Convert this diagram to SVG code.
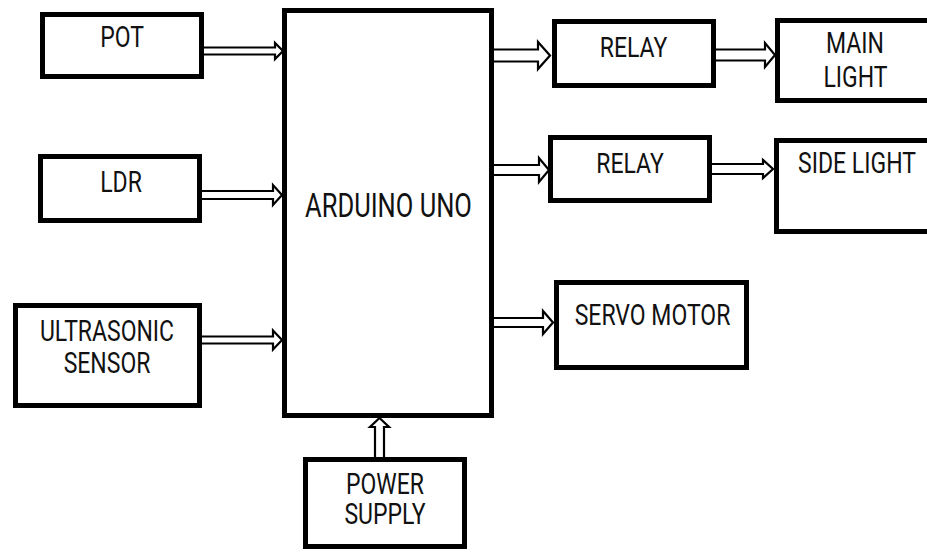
<svg xmlns="http://www.w3.org/2000/svg" width="927" height="554" viewBox="0 0 927 554">
<style>
.box{fill:#fff;stroke:#000;stroke-width:5}
.t{font-family:Roboto,"Liberation Sans",sans-serif;font-size:23px;text-anchor:middle;fill:#111}
.big{font-size:25.5px}
.arr{fill:#fff;stroke:#000;stroke-width:2.2;stroke-linejoin:miter}
</style>
<rect width="927" height="554" fill="#fff"/>
<g id="connectors">
<path class="arr" d="M204,47.5 H275 V43 L283,51 L275,59 V54.5 H204"/>
<path class="arr" d="M202,191 H273 V185 L282,195 L273,205 V199 H202"/>
<path class="arr" d="M202,336.5 H273 V330.5 L282,340 L273,349.5 V343.5 H202"/>
<path class="arr" d="M494,49.5 H538 V42 L550,55.5 L538,69 V61.5 H494"/>
<path class="arr" d="M716,49.5 H765 V43 L775,55 L765,67 V60.5 H716"/>
<path class="arr" d="M494,165 H539 V158 L549,170 L539,182 V175 H494"/>
<path class="arr" d="M712,164 H763 V160 L773,169 L763,178 V174 H712"/>
<path class="arr" d="M494,318 H543 V311 L553,322.5 L543,334 V327 H494"/>
<path class="arr" d="M375,457 V427 H370 L379.5,418 L389,427 H384 V457"/>
</g>
<g id="arduino"><rect class="box" x="284.5" y="10.5" width="207" height="405"/><text class="t big" transform="translate(388.5,217) scale(1,1.28)">ARDUINO UNO</text></g>
<g id="pot"><rect class="box" x="42.5" y="14.5" width="159" height="62"/><text class="t" transform="translate(122,47) scale(1,1.25)">POT</text></g>
<g id="ldr"><rect class="box" x="40.5" y="156.5" width="159" height="64"/><text class="t" transform="translate(121,192) scale(1,1.25)">LDR</text></g>
<g id="ultrasonic"><rect class="box" x="15.5" y="305.5" width="184" height="100"/><text class="t" transform="translate(107,341) scale(1,1.25)">ULTRASONIC</text><text class="t" transform="translate(107,373) scale(1,1.25)">SENSOR</text></g>
<g id="power"><rect class="box" x="305.5" y="459.5" width="159" height="87"/><text class="t" transform="translate(385,494) scale(1,1.25)">POWER</text><text class="t" transform="translate(385,524) scale(1,1.25)">SUPPLY</text></g>
<g id="relay1"><rect class="box" x="554.5" y="21.5" width="159" height="64"/><text class="t" transform="translate(633.5,57) scale(1,1.2)">RELAY</text></g>
<g id="mainlight"><rect class="box" x="777.5" y="20.5" width="160" height="80"/><text class="t" transform="translate(855,53) scale(1,1.25)">MAIN</text><text class="t" transform="translate(855.5,87) scale(1,1.25)">LIGHT</text></g>
<g id="relay2"><rect class="box" x="550.5" y="137.5" width="159" height="63"/><text class="t" transform="translate(630,173) scale(1,1.2)">RELAY</text></g>
<g id="sidelight"><rect class="box" x="776.5" y="140.5" width="160" height="91"/><text class="t" transform="translate(857,173) scale(1,1.25)">SIDE LIGHT</text></g>
<g id="servo"><rect class="box" x="556.5" y="282.5" width="190" height="85"/><text class="t" transform="translate(652.5,325) scale(1,1.28)">SERVO MOTOR</text></g>
</svg>
